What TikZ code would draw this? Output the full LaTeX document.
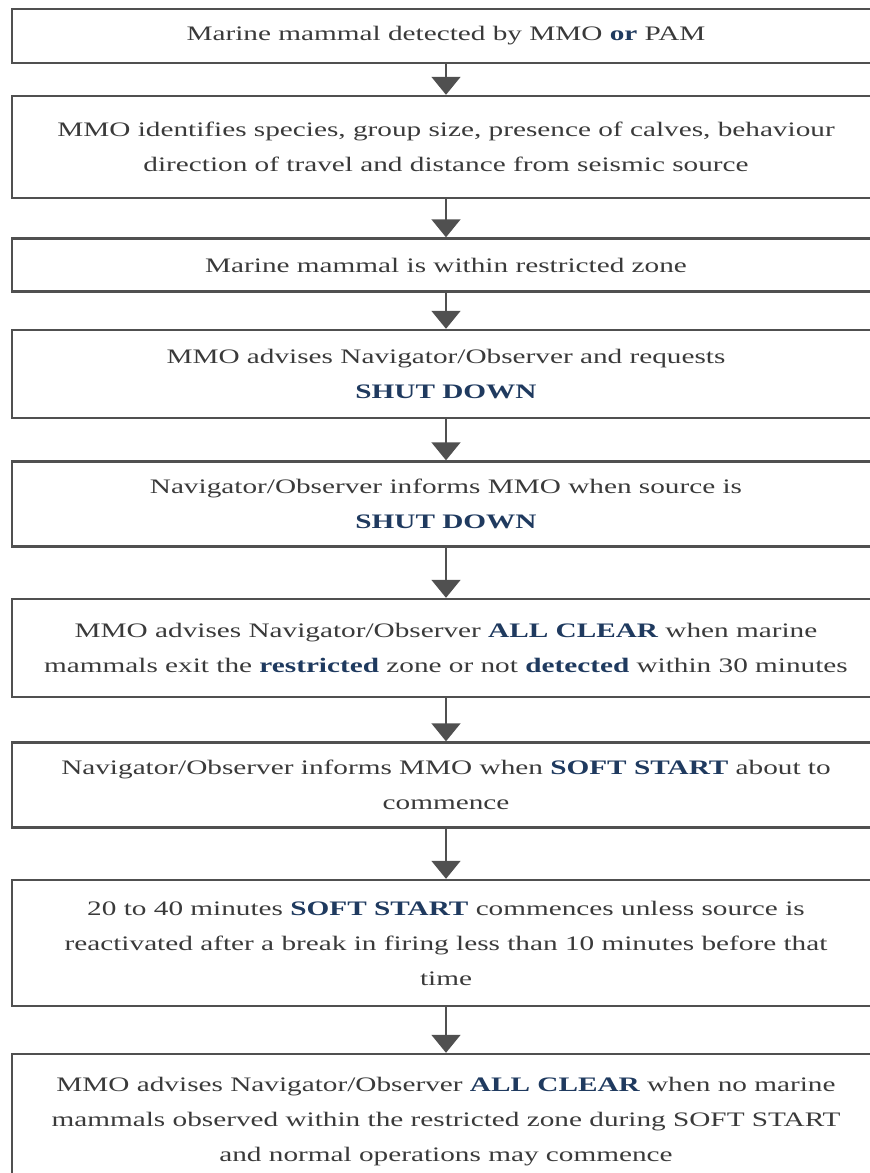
\documentclass[tikz,border=0pt]{standalone}
\usepackage{fontspec}
\setmainfont[FakeStretch=1.42]{Liberation Serif}
\usepackage{tikz}
\usetikzlibrary{arrows.meta}
\definecolor{ink}{HTML}{3A3A3A}
\definecolor{navy}{HTML}{1F3A5F}
\definecolor{frame}{HTML}{505050}
\newcommand{\keyword}[1]{\textbf{\color{navy}#1}}
\tikzset{stage/.style={draw=frame,line width=1.2pt,minimum width=434pt,align=center,inner sep=0pt,
    font=\fontsize{10.3}{17.5}\selectfont,text=ink},
  flow/.style={-{Triangle[width=14.5pt,length=9pt]},line width=0.8pt,draw=frame,fill=frame}}

\begin{document}
\begin{tikzpicture}[x=0.5pt,y=-0.5pt]
\useasboundingbox (0,0) rectangle (869,1173);
\node[stage,minimum height=27pt] (detect) at (446,36) {Marine mammal detected by MMO \keyword{or} PAM};
\node[stage,minimum height=51pt] (identify) at (446,147) {MMO identifies species, group size, presence of calves, behaviour\\direction of travel and distance from seismic source};
\node[stage,minimum height=26.5pt] (zone) at (446,265) {Marine mammal is within restricted zone};
\node[stage,minimum height=44pt] (request) at (446,374) {MMO advises Navigator/Observer and requests\\\keyword{SHUT DOWN}};
\node[stage,minimum height=42.5pt] (shutdown) at (446,504) {Navigator/Observer informs MMO when source is\\\keyword{SHUT DOWN}};
\node[stage,minimum height=49pt] (clear) at (446,648) {MMO advises Navigator/Observer \keyword{ALL CLEAR} when marine\\mammals exit the \keyword{restricted} zone or not \keyword{detected} within 30 minutes};
\node[stage,minimum height=42.5pt] (announce) at (446,785) {Navigator/Observer informs MMO when \keyword{SOFT START} about to\\commence};
\node[stage,minimum height=63pt] (softstart) at (446,943) {20 to 40 minutes \keyword{SOFT START} commences unless source is\\reactivated after a break in firing less than 10 minutes before that\\time};
\node[stage,minimum height=68pt] (resume) at (446,1122) {MMO advises Navigator/Observer \keyword{ALL CLEAR} when no marine\\mammals observed within the restricted zone during SOFT START\\and normal operations may commence};
\draw[flow] (detect) -- (identify);
\draw[flow] (identify) -- (zone);
\draw[flow] (zone) -- (request);
\draw[flow] (request) -- (shutdown);
\draw[flow] (shutdown) -- (clear);
\draw[flow] (clear) -- (announce);
\draw[flow] (announce) -- (softstart);
\draw[flow] (softstart) -- (resume);
\end{tikzpicture}
\end{document}
